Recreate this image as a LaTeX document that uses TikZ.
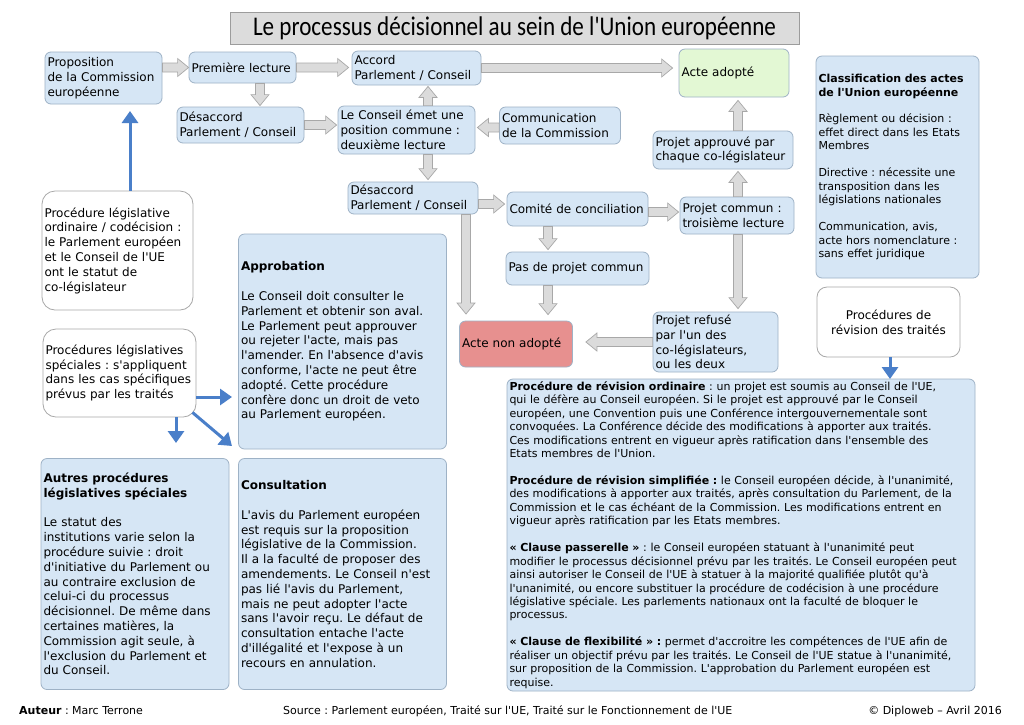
\documentclass[tikz,border=0pt]{standalone}
\usepackage{graphicx}
\usepackage{fontspec}
\setmainfont{DejaVu Sans}[Ligatures=TeXOff]
\newfontfamily\titlefont{Carlito}
\usetikzlibrary{calc,arrows.meta}
\definecolor{boxfill}{HTML}{D6E6F5}
\definecolor{boxedge}{HTML}{9EB2C6}
\definecolor{redfill}{HTML}{E7908F}
\definecolor{greenfill}{HTML}{E3F8D4}
\definecolor{afill}{HTML}{DBDBDB}
\definecolor{aedge}{HTML}{A8A8A8}
\definecolor{bluearrow}{HTML}{4A7FC9}
\definecolor{titlefill}{HTML}{DCDCDC}
\definecolor{titleedge}{HTML}{9C9C9C}
\definecolor{whiteedge}{HTML}{A8A8A8}
\newcommand\fA{\fontsize{12pt}{14.8pt}\selectfont}
\newcommand\fB{\fontsize{11pt}{13.45pt}\selectfont}
\newcommand\blockarrow[2]{%
  \draw[blockarr] let \p1=#1, \p2=#2,
    \n1={veclen(\x2-\x1,\y2-\y1)}, \n2={atan2(\y2-\y1,\x2-\x1)}, \n3={\n1-11pt} in
    ($(\p1)+(\n2+90:4.5pt)$) -- ($(\p1)+(\n2:\n3)+(\n2+90:4.5pt)$) --
    ($(\p1)+(\n2:\n3)+(\n2+90:9pt)$) -- (\p2) --
    ($(\p1)+(\n2:\n3)+(\n2-90:9pt)$) -- ($(\p1)+(\n2:\n3)+(\n2-90:4.5pt)$) --
    ($(\p1)+(\n2-90:4.5pt)$) -- cycle;}
\frenchspacing
\begin{document}
\begin{tikzpicture}[x=1pt,y=1pt,
  fbox/.style={draw=boxedge, line width=0.8pt, fill=boxfill, rounded corners=6pt,
    inner xsep=2.5pt, inner ysep=2pt, align=left, font=\fA},
  redbox/.style={fbox, fill=redfill},
  greenbox/.style={fbox, fill=greenfill},
  wbox/.style={fbox, fill=white, draw=whiteedge, rounded corners=13pt},
  blockarr/.style={draw=aedge, fill=afill, line width=0.7pt, line join=miter},
  bluearr/.style={draw=bluearrow, line width=3pt, -{Triangle[length=12pt,width=16pt]}},
  foot/.style={inner sep=0pt, font=\fB}]
\useasboundingbox[fill=white] (0,0) rectangle (1024,-724);

% title
\node[draw=titleedge, fill=titlefill, line width=0.8pt, minimum width=569pt, minimum height=32pt, inner sep=0pt] (title) at (514.5,-28)
  {\titlefont\fontsize{27pt}{27pt}\selectfont\scalebox{0.856}[1]{Le processus décisionnel au sein de l'Union européenne}};

% flow boxes
\node[fbox, minimum width=117pt, minimum height=52pt, text width=112pt] (prop) at (103.5,-78) {Proposition\\de la Commission\\européenne};
\node[fbox, minimum width=107pt, minimum height=31pt, text width=102pt] (prem) at (242.5,-67.5) {Première lecture};
\node[fbox, minimum width=129pt, minimum height=34pt, text width=124pt] (accord) at (416.5,-68) {Accord\\Parlement / Conseil};
\node[greenbox, minimum width=110pt, minimum height=48pt, text width=105pt] (adopte) at (734,-73) {Acte adopté};
\node[fbox, minimum width=127pt, minimum height=36pt, text width=122pt] (des1) at (240.5,-125) {Désaccord\\Parlement / Conseil};
\node[fbox, minimum width=137pt, minimum height=48pt, text width=132pt] (conseil) at (406.5,-130) {Le Conseil émet une\\position commune :\\deuxième lecture};
\node[fbox, minimum width=121pt, minimum height=37pt, text width=116pt] (comm) at (560,-125.5) {Communication\\de la Commission};
\node[fbox, minimum width=140pt, minimum height=38pt, text width=135pt] (approuve) at (723,-150) {Projet approuvé par\\chaque co-législateur};
\node[fbox, minimum width=130pt, minimum height=32pt, text width=125pt] (des2) at (413,-198) {Désaccord\\Parlement / Conseil};
\node[fbox, minimum width=141pt, minimum height=34pt, text width=136pt] (comite) at (577.5,-209) {Comité de conciliation};
\node[fbox, minimum width=114pt, minimum height=37pt, text width=109pt] (pcommun) at (737,-215.5) {Projet commun :\\troisième lecture};
\node[fbox, minimum width=143pt, minimum height=33pt, text width=138pt] (pasprojet) at (577.5,-268.5) {Pas de projet commun};
\node[redbox, minimum width=113pt, minimum height=46pt, text width=108pt] (nonadopte) at (516,-344) {Acte non adopté};
\node[fbox, minimum width=125pt, minimum height=60pt, text width=120pt] (refuse) at (715.5,-342) {Projet refusé\\par l'un des\\co-législateurs,\\ou les deux};

% right column
\node[fbox, font=\fB, minimum width=163pt, minimum height=222pt, text width=158pt] (classif) at (897.5,-167)
  {\textbf{Classification des actes}\\\textbf{de l'Union européenne}\\[13.45pt]
   Règlement ou décision :\\effet direct dans les Etats\\Membres\\[13.45pt]
   Directive : nécessite une\\transposition dans les\\législations nationales\\[13.45pt]
   Communication, avis,\\acte hors nomenclature :\\sans effet juridique};
\node[wbox, align=center, rounded corners=10pt, minimum width=143pt, minimum height=70pt] (revis) at (888.5,-322) {Procédures de\\révision des traités};
\node[fbox, font=\fB, minimum width=468pt, minimum height=312pt, text width=463pt] (revtext) at (741,-535)
  {\textbf{Procédure de révision ordinaire} : un projet est soumis au Conseil de l'UE,\\
   qui le défère au Conseil européen. Si le projet est approuvé par le Conseil\\
   européen, une Convention puis une Conférence intergouvernementale sont\\
   convoquées. La Conférence décide des modifications à apporter aux traités.\\
   Ces modifications entrent en vigueur après ratification dans l'ensemble des\\
   Etats membres de l'Union.\\[13.45pt]
   \textbf{Procédure de révision simplifiée :} le Conseil européen décide, à l'unanimité,\\
   des modifications à apporter aux traités, après consultation du Parlement, de la\\
   Commission et le cas échéant de la Commission. Les modifications entrent en\\
   vigueur après ratification par les Etats membres.\\[13.45pt]
   \textbf{« Clause passerelle »} : le Conseil européen statuant à l'unanimité peut\\
   modifier le processus décisionnel prévu par les traités. Le Conseil européen peut\\
   ainsi autoriser le Conseil de l'UE à statuer à la majorité qualifiée plutôt qu'à\\
   l'unanimité, ou encore substituer la procédure de codécision à une procédure\\
   législative spéciale. Les parlements nationaux ont la faculté de bloquer le\\
   processus.\\[13.45pt]
   \textbf{« Clause de flexibilité » :} permet d'accroitre les compétences de l'UE afin de\\
   réaliser un objectif prévu par les traités. Le Conseil de l'UE statue à l'unanimité,\\
   sur proposition de la Commission. L'approbation du Parlement européen est\\
   requise.};

% left column
\node[wbox, minimum width=151pt, minimum height=119pt, text width=146pt] (ordinaire) at (117.5,-250.5)
  {Procédure législative\\ordinaire / codécision :\\le Parlement européen\\et le Conseil de l'UE\\ont le statut de\\co-législateur};
\node[wbox, minimum width=153pt, minimum height=88pt, text width=148pt] (speciales) at (119.5,-373)
  {Procédures législatives\\spéciales : s'appliquent\\dans les cas spécifiques\\prévus par les traités};
\node[fbox, minimum width=208pt, minimum height=215pt, text width=203pt] (approb) at (342.5,-341.5)
  {\textbf{Approbation}\\[14.8pt]
   Le Conseil doit consulter le\\Parlement et obtenir son aval.\\Le Parlement peut approuver\\ou rejeter l'acte, mais pas\\l'amender. En l'absence d'avis\\conforme, l'acte ne peut être\\adopté. Cette procédure\\confère donc un droit de veto\\au Parlement européen.};
\node[fbox, minimum width=188pt, minimum height=231pt, text width=183pt] (autres) at (135,-574)
  {\textbf{Autres procédures}\\\textbf{législatives spéciales}\\[14.8pt]
   Le statut des\\institutions varie selon la\\procédure suivie : droit\\d'initiative du Parlement ou\\au contraire exclusion de\\celui-ci du processus\\décisionnel. De même dans\\certaines matières, la\\Commission agit seule, à\\l'exclusion du Parlement et\\du Conseil.};
\node[fbox, minimum width=208pt, minimum height=231pt, text width=203pt] (consult) at (342.5,-574)
  {\textbf{Consultation}\\[14.8pt]
   L'avis du Parlement européen\\est requis sur la proposition\\législative de la Commission.\\Il a la faculté de proposer des\\amendements. Le Conseil n'est\\pas lié l'avis du Parlement,\\mais ne peut adopter l'acte\\sans l'avoir reçu. Le défaut de\\consultation entache l'acte\\d'illégalité et l'expose à un\\recours en annulation.};

% footer
\node[foot, anchor=west] (auteur) at (19,-711) {\textbf{Auteur} : Marc Terrone};
\node[foot, anchor=west] (source) at (283,-711) {Source : Parlement européen, Traité sur l'UE, Traité sur le Fonctionnement de l'UE};
\node[foot, anchor=east] (copy) at (1002,-711) {© Diploweb – Avril 2016};

% gray block arrows
\coordinate (g4) at (260,0);
\coordinate (g7) at (428,0);
\coordinate (g9) at (0,-204);
\coordinate (g10) at (466,-314);
\coordinate (g11) at (0,-212);
\coordinate (g12) at (548,0);
\coordinate (g14) at (738,0);
\blockarrow{(prop.east |- prem.west)}{(prem.west)}
\blockarrow{(prem.east)}{($(prem.east -| accord.west)+(-3,0)$)}
\blockarrow{(accord.east)}{($(accord.east -| adopte.west)+(-6,0)$)}
\blockarrow{(prem.south -| g4)}{($(des1.north -| g4)+(0,1)$)}
\blockarrow{(des1.east)}{($(des1.east -| conseil.west)+(-1,0)$)}
\blockarrow{($(comm.west)+(0,-2)$)}{($(comm.west -| conseil.east)+(2,-2)$)}
\blockarrow{(conseil.north -| g7)}{($(accord.south -| g7)+(0,-1)$)}
\blockarrow{(conseil.south -| g7)}{($(des2.north -| g7)+(0,2)$)}
\blockarrow{(des2.east |- g9)}{($(comite.west |- g9)+(-2,0)$)}
\blockarrow{(des2.south -| g10)}{(g10)}
\blockarrow{(comite.east |- g11)}{($(pcommun.west |- g11)+(-1,0)$)}
\blockarrow{(comite.south -| g12)}{($(pasprojet.north -| g12)+(0,2)$)}
\blockarrow{(pasprojet.south -| g12)}{($(nonadopte.north -| g12)+(0,6)$)}
\blockarrow{(pcommun.north -| g14)}{($(approuve.south -| g14)+(0,-2)$)}
\blockarrow{(approuve.north -| g14)}{($(adopte.south -| g14)+(0,-3)$)}
\blockarrow{(pcommun.south -| g14)}{($(refuse.north -| g14)+(0,3)$)}
\blockarrow{(refuse.west)}{($(refuse.west -| nonadopte.east)+(13,0)$)}

% blue arrows
\coordinate (b1) at (130,-111);
\coordinate (b2) at (232,-397);
\coordinate (b3) at (176,-443);
\coordinate (b4) at (232,-446);
\coordinate (b5) at (890,-379);
\draw[bluearr] (ordinaire.north -| b1) -- (b1);
\draw[bluearr] (speciales.east |- b2) -- (b2);
\draw[bluearr] (speciales.south -| b3) -- (b3);
\draw[bluearr] ($(speciales.south east)+(-4,5)$) -- (b4);
\draw[bluearr] (revis.south -| b5) -- (b5);
\end{tikzpicture}
\end{document}
